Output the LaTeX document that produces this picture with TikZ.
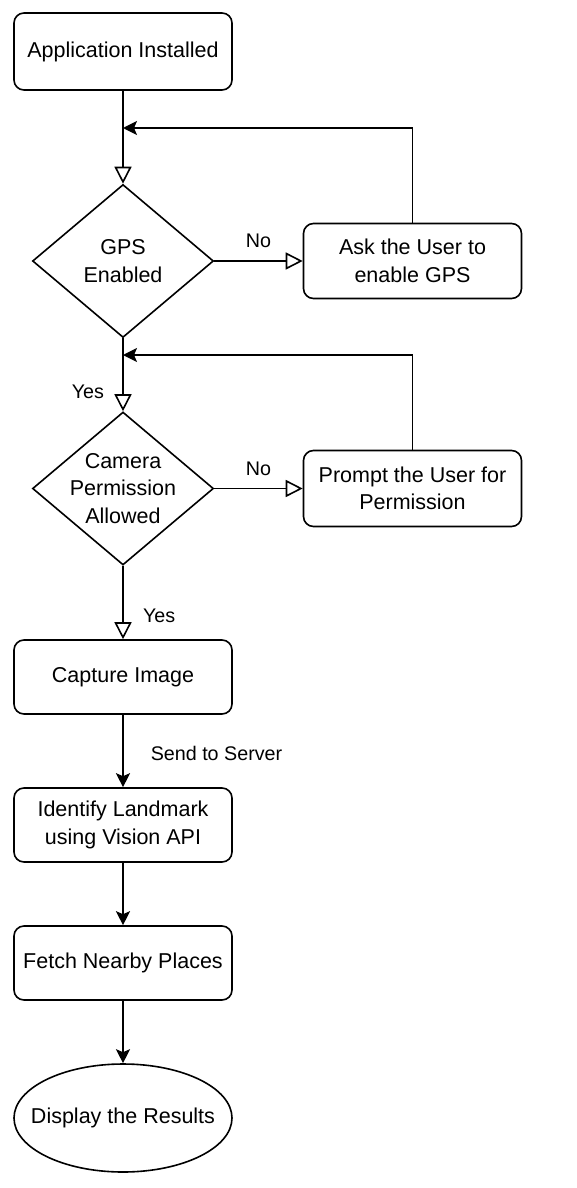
\documentclass[tikz,border=0pt]{standalone}
\usepackage{fontspec}
\setmainfont{Liberation Sans}
\usetikzlibrary{shapes.geometric,arrows.meta}

\begin{document}
\begin{tikzpicture}[x=1pt,y=-1pt,
  every node/.style={font=\fontsize{21.5}{27.5}\selectfont, text=black},
  box/.style={draw, line width=1.6pt, rounded corners=10pt, minimum width=218pt, minimum height=#1, align=center, inner sep=0pt},
  box/.default=77pt,
  decision/.style={draw, diamond, line width=1.6pt, minimum width=181pt, minimum height=153pt, inner sep=0pt},
  terminal/.style={draw, ellipse, line width=1.6pt, minimum width=218pt, minimum height=108pt, inner sep=0pt},
  elabel/.style={font=\fontsize{19.7}{23}\selectfont, inner sep=3.3pt},
  openarr/.style={-{Triangle[open,length=17pt,width=17pt]}, line width=1.6pt, line join=miter},
  fillarr/.style={-{Stealth[length=14pt,width=14pt,inset=3pt]}, line width=1.6pt}
]
\fill[white] (0,0) rectangle (577,1188);
\useasboundingbox (0,0) rectangle (577,1188);

\node[box] (app) at (123,51.5) {Application Installed};
\node[decision, label={[align=center]center:GPS\\Enabled}] (gps) at (123,261) {};
\node[box=75pt] (ask) at (412.5,261) {Ask the User to\\enable GPS};
\node[decision, label={[align=center]center:Camera\\Permission\\Allowed}] (cam) at (123,488.5) {};
\node[box=76pt] (prompt) at (412.5,488.5) {Prompt the User for\\Permission};
\node[box=74pt] (capture) at (123,677) {Capture Image};
\node[box=74pt] (identify) at (123,825) {Identify Landmark\\using Vision API};
\node[box=74pt] (fetch) at (123,963) {Fetch Nearby Places};
\node[terminal] (display) at (123,1118) {\makebox[0pt]{Display the Results}};

\coordinate (j1) at (123,128);
\coordinate (j2) at (123,355);

\draw[openarr] (app.south) -- (gps.north);
\draw[fillarr] (ask.north) |- (j1);
\draw[openarr] (gps.east) -- node[elabel, above=9pt] (no1) {No} (ask.west);
\draw[openarr] (gps.south) -- node[elabel, pos=0.73, left=15pt] (yes1) {Yes} (cam.north);
\draw[fillarr] (prompt.north) |- (j2);
\draw[openarr] (cam.east) -- node[elabel, above=9pt] (no2) {No} (prompt.west);
\draw[openarr] (cam.south) -- node[elabel, pos=0.675, right=16pt] (yes2) {Yes} (capture.north);
\draw[fillarr] (capture.south) -- node[elabel, pos=0.54, right=23.7pt] (send) {Send to Server} (identify.north);
\draw[fillarr] (identify.south) -- (fetch.north);
\draw[fillarr] (fetch.south) -- (display.north);
\end{tikzpicture}
\end{document}
